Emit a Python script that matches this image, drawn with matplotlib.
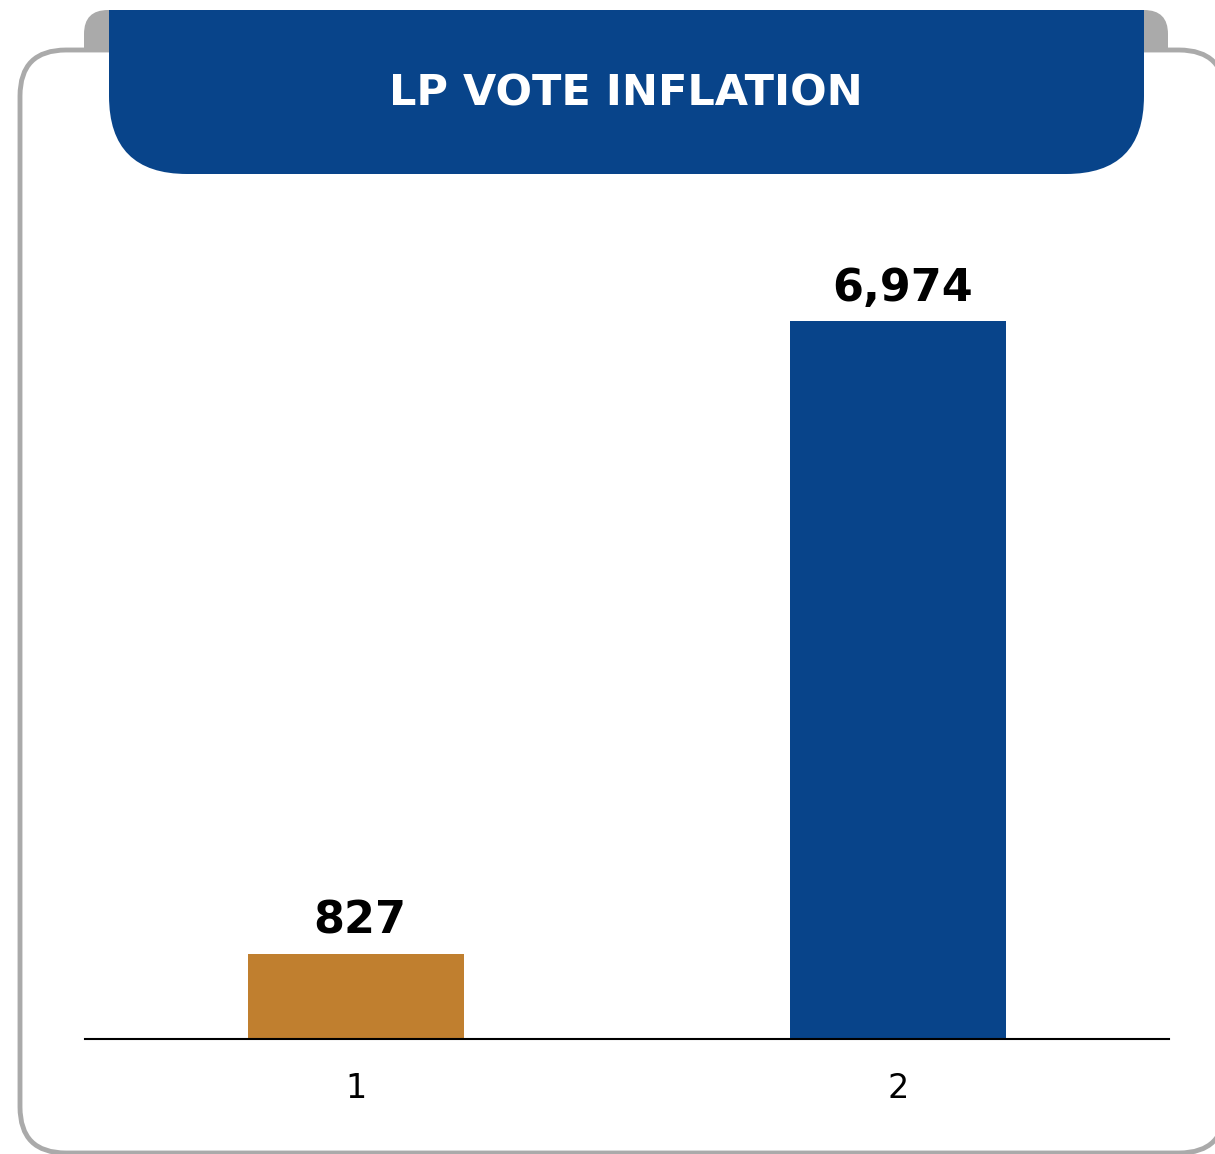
import matplotlib
matplotlib.use("Agg")
import matplotlib.pyplot as plt
from matplotlib.patches import FancyBboxPatch, Rectangle

# data
categories = [1, 2]
values = [827, 6974]
labels = ["827", "6,974"]
bar_colors = ["#C07F2F", "#08448A"]
title = "LP VOTE INFLATION"

W, H = 1215, 1154
fig = plt.figure(figsize=(W / 100, H / 100), dpi=100)
fig.patch.set_facecolor("white")

# background decoration in pixel coords
bg = fig.add_axes([0, 0, 1, 1], zorder=0)
bg.set_xlim(0, W)
bg.set_ylim(H, 0)
bg.axis("off")

gray = "#AAAAAA"
blue = "#08448A"

# gray tab behind header
bg.add_patch(FancyBboxPatch((84, 10), 1168 - 84, 80,
                            boxstyle="round,pad=0,rounding_size=24",
                            fc=gray, ec="none", zorder=1))
# outer frame (runs past the right edge)
bg.add_patch(FancyBboxPatch((20, 50), 1225 - 20, 1153 - 50,
                            boxstyle="round,pad=0,rounding_size=46",
                            fc="white", ec=gray, lw=3.5, zorder=2))
# header band, only bottom corners rounded
bg.add_patch(FancyBboxPatch((109, -80), 1144 - 109, 174 + 80,
                            boxstyle="round,pad=0,rounding_size=78",
                            fc=blue, ec="none", zorder=3))
bg.add_patch(Rectangle((0, 0), W, 10, fc="white", ec="none", zorder=4))
bg.text(626, 93, title, color="white", fontsize=31, fontweight="bold",
        ha="center", va="center", zorder=5)

# chart
ax = fig.add_axes([85 / W, (H - 1039) / H, 1084 / W, 823.7 / H], zorder=1)
ax.patch.set_alpha(0)
ax.bar(categories, values, width=0.4, color=bar_colors)
ax.set_xlim(0.5, 2.5)
ax.set_ylim(0, 8000)
for s in ["top", "right", "left"]:
    ax.spines[s].set_visible(False)
ax.spines["bottom"].set_linewidth(1.5)
ax.set_yticks([])
ax.set_xticks(categories)
ax.set_xticklabels([str(c) for c in categories], fontsize=24)
ax.tick_params(axis="x", length=0, pad=24)

for x, v, t in zip(categories, values, labels):
    ax.annotate(t, (x, v), xytext=(3, 8), textcoords="offset points",
                ha="center", va="bottom", fontsize=32, fontweight="bold")

fig.savefig("out.png", dpi=100)
